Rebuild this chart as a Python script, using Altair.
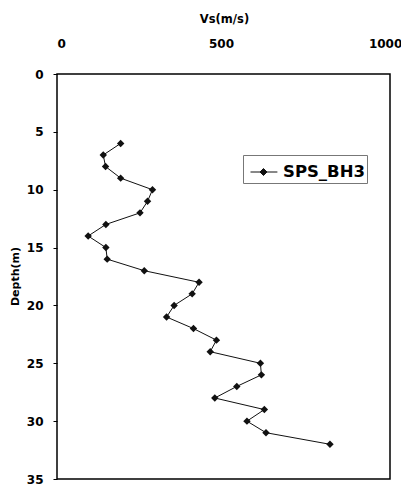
import altair as alt
import pandas as pd

depth = [6, 7, 8, 9, 10, 11, 12, 13, 14, 15, 16, 17, 18, 19, 20, 21, 22, 23, 24, 25, 26, 27, 28, 29, 30, 31, 32]
vs = [194, 141, 148, 194, 291, 276, 253, 149, 95, 149, 153, 266, 433, 412, 357, 334, 416, 486, 467, 620, 623, 548, 481, 632, 579, 637, 832]
series = ["SPS_BH3"] * len(depth)
x_ticks = [0, 500, 1000]
y_ticks = [0, 5, 10, 15, 20, 25, 30, 35]

df = pd.DataFrame({"depth": depth, "vs": vs, "series": series})

FONT = "DejaVu Sans"

x = alt.X("vs:Q", scale=alt.Scale(domain=[0, 1015], nice=False, zero=False),
          axis=alt.Axis(orient="top", values=x_ticks, format="d", title="Vs(m/s)", grid=False,
                        ticks=False, domain=False, labelPadding=24, labelFontSize=12,
                        labelFontWeight="bold", labelFont=FONT, labelColor="black",
                        titleFont=FONT, titleFontSize=11.5, titleFontWeight="bold",
                        titleColor="black", titleX=167, titleY=-55, titleBaseline="middle"))
y = alt.Y("depth:Q", scale=alt.Scale(domain=[0, 35], reverse=True, nice=False, zero=False),
          axis=alt.Axis(values=y_ticks, title="Depth(m)", grid=False, ticks=True, tickSize=4,
                        tickColor="black", domain=False, labelPadding=10, labelFontSize=12,
                        labelFontWeight="bold", labelFont=FONT, labelColor="black",
                        titleFont=FONT, titleFontSize=11, titleFontWeight="bold",
                        titleColor="black", titleX=-42, titleY=202, titleBaseline="middle"))

line = alt.Chart(df).mark_line(color="#111111", strokeWidth=1).encode(
    x=x, y=y, order=alt.Order("depth:Q"))

points = alt.Chart(df).mark_point(shape="diamond", size=55, filled=True, opacity=1).encode(
    x=x, y=y,
    color=alt.Color("series:N", scale=alt.Scale(range=["#111111"]),
                    legend=alt.Legend(title=None, orient="none", legendX=186, legendY=81,
                                      symbolType="M-0.655,0H1.2M0.24,-0.24L0.48,0L0.24,0.24L0,0Z",
                                      symbolSize=841, symbolFillColor="#111111",
                                      symbolStrokeColor="#111111", symbolStrokeWidth=1,
                                      labelFont=FONT, labelFontSize=16.5, labelFontWeight="bold",
                                      labelColor="black", labelOffset=8, padding=2,
                                      strokeColor="#777777", fillColor="white")))

chart = alt.layer(line, points).properties(
    width=333, height=405,
    autosize=alt.AutoSizeParams(type="none"),
    padding={"left": 49, "top": 66, "right": 11, "bottom": 5},
).configure_view(stroke="black", strokeWidth=1.5)

chart.save("out.html", embed_options={"renderer": "svg", "actions": False})
